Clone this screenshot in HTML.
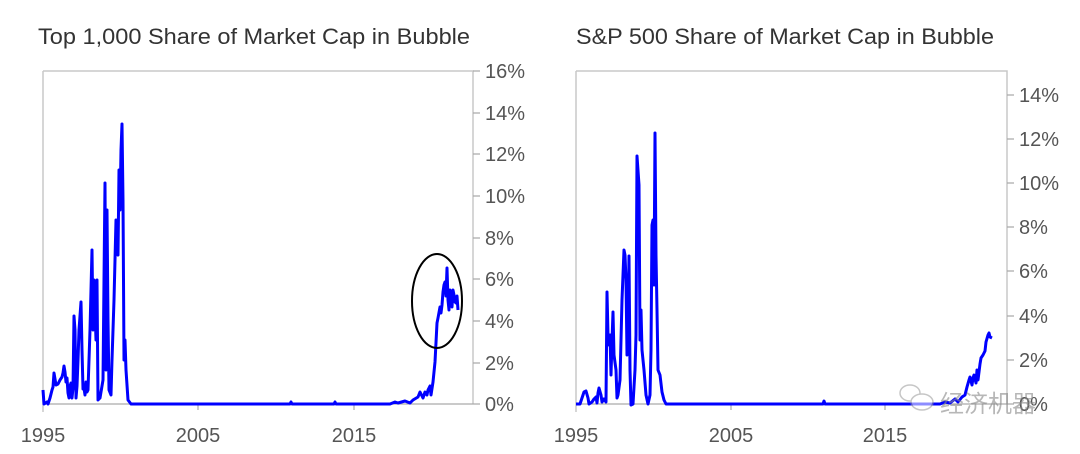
<!DOCTYPE html>
<html><head><meta charset="utf-8"><style>
body{margin:0;background:#fff;width:1080px;height:449px;overflow:hidden}
text{font-family:"Liberation Sans",sans-serif}
</style></head><body>
<svg width="1080" height="449" viewBox="0 0 1080 449" xmlns="http://www.w3.org/2000/svg">
<g font-size="22" fill="#333" font-weight="300">
<text x="38" y="44" textLength="432" lengthAdjust="spacingAndGlyphs">Top 1,000 Share of Market Cap in Bubble</text>
<text x="576" y="44" textLength="418" lengthAdjust="spacingAndGlyphs">S&amp;P 500 Share of Market Cap in Bubble</text>
</g>
<g stroke="#c8c8c8" stroke-width="1.5" fill="none">
<path d="M43 71H473V404M43 71V412"/>
<path d="M576 71H1007V404M576 71V412"/>
</g>
<g stroke="#aaa" stroke-width="1.2">
<path d="M43 404H473M473 404h7M473 363h7M473 321h7M473 279h7M473 238h7M473 196h7M473 154h7M473 113h7M473 71h7"/>
<path d="M576 404H1007M1007 404h7M1007 360h7M1007 316h7M1007 271h7M1007 227h7M1007 183h7M1007 139h7M1007 95h7"/>
<path d="M198 404v6M354 404v6M731 404v6M885 404v6"/>
</g>
<g font-size="20" fill="#555">
<text x="485" y="411">0%</text><text x="485" y="370">2%</text><text x="485" y="328">4%</text><text x="485" y="286">6%</text><text x="485" y="245">8%</text><text x="485" y="203">10%</text><text x="485" y="161">12%</text><text x="485" y="120">14%</text><text x="485" y="78">16%</text>
<text x="1019" y="411">0%</text><text x="1019" y="367">2%</text><text x="1019" y="323">4%</text><text x="1019" y="278">6%</text><text x="1019" y="234">8%</text><text x="1019" y="190">10%</text><text x="1019" y="146">12%</text><text x="1019" y="102">14%</text>
<text x="43" y="442" text-anchor="middle">1995</text><text x="198" y="442" text-anchor="middle">2005</text><text x="354" y="442" text-anchor="middle">2015</text>
<text x="576" y="442" text-anchor="middle">1995</text><text x="731" y="442" text-anchor="middle">2005</text><text x="885" y="442" text-anchor="middle">2015</text>
</g>
<g stroke="#0000ff" stroke-width="3" fill="none" stroke-linejoin="round">
<polyline points="43,390 44,404 47,402 48,404 50,398 52,390 53,387 54,373 56,385 58,384 60,380 62,377 63,373 64,366 65,372 66,382 67,378 68,393 69,398 70,386 71,383 72,398 73,388 74,316 75,330 76,398 77,386 78,360 79,330 81,302 82,350 83,389 84,388 85,395 86,382 87,392 88,390 90,330 92,250 93,330 94,280 96,340 97,280 98,400 100,398 103,380 104,280 105,183 106,370 107,210 108,320 109,390 111,395 112,360 114,300 116,220 118,255 119,170 120,210 121,150 122,124 123,200 124,360 125,340 126,370 128,400 131,404 290,404 291,402 292,404 334,404 335,402 336,404 380,404 390,404 395,402 398,403 405,401 410,403 413,400 418,397 420,392 423,398 425,392 427,395 428,390 430,386 431,395 433,382 435,362 437,323 438,318 440,307 441,313 442,305 443,292 444,285 445,282 446,296 447,268 448,300 449,310 450,290 451,302 452,307 453,290 454,295 455,302 456,303 457,296 458,310"/>
<polyline points="576,404 580,404 582,398 584,392 586,391 588,398 589,404 592,402 594,399 596,397 597,403 598,393 599,388 601,395 602,402 604,399 606,402 607,292 608,335 609,345 610,335 611,375 612,341 613,312 614,355 616,370 617,398 618,395 620,380 622,300 624,250 625,255 626,280 627,355 628,330 629,256 630,370 631,405 633,404 635,370 636,335 637,156 639,185 640,340 641,310 642,350 644,370 646,395 648,404 650,395 651,350 652,225 653,220 654,285 655,133 656,255 657,310 658,370 660,375 662,392 664,400 666,404 823,404 824,401 825,404 940,404 945,402 950,403 955,399 958,402 962,397 965,395 967,387 969,380 970,377 972,385 973,378 974,375 976,383 977,370 978,380 980,364 981,358 983,355 985,351 986,342 988,335 989,333 990,337 992,338"/>
</g>
<ellipse cx="437" cy="301" rx="25" ry="47" fill="none" stroke="#000" stroke-width="2"/>
<g opacity="0.55" fill="none" stroke="#999" stroke-width="1.5">
<ellipse cx="910" cy="393" rx="10" ry="8" fill="#fff"/>
<ellipse cx="922" cy="402" rx="11" ry="8" fill="#fff"/>
</g>
<text x="940" y="412" font-size="24" fill="#888" opacity="0.6" font-family="'Liberation Sans','Noto Sans CJK SC',sans-serif">经济机器</text>
</svg>
</body></html>
